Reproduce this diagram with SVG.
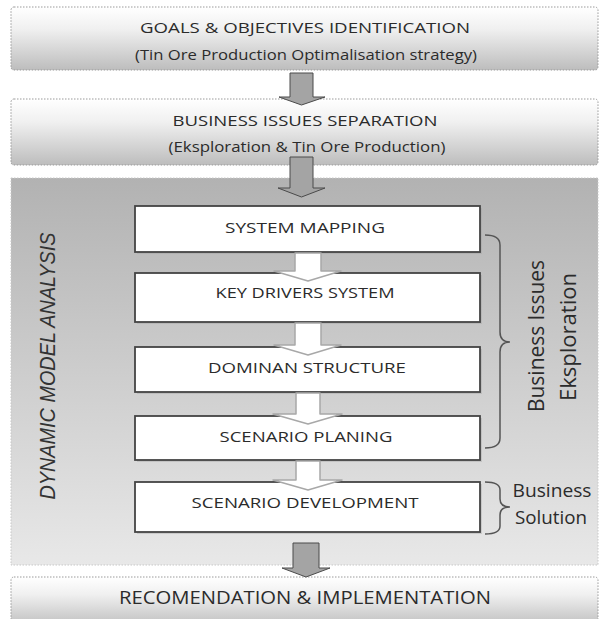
<svg xmlns="http://www.w3.org/2000/svg" width="600" height="619" viewBox="0 0 600 619">
<defs>
<linearGradient id="gTop" x1="0" y1="0" x2="0" y2="1">
<stop offset="0" stop-color="#ffffff"/>
<stop offset="0.35" stop-color="#f0f0f0"/>
<stop offset="1" stop-color="#bdbdbd"/>
</linearGradient>
<linearGradient id="gBig" x1="0" y1="0" x2="0" y2="1">
<stop offset="0" stop-color="#b2b2b2"/>
<stop offset="1" stop-color="#e8e8e8"/>
</linearGradient>
</defs>
<style>
.outer{fill:url(#gTop);stroke:#9a9a9a;stroke-width:1;stroke-dasharray:1.5 1.5}
.big{fill:url(#gBig);stroke:#c8c8c8;stroke-width:1;stroke-dasharray:1.5 1.5}
.inner{fill:#ffffff;stroke:#444444;stroke-width:1.8}
.shadow{fill:#9a9a9a;opacity:0.35}
.t{font-family:"Open Sans","Liberation Sans",sans-serif;fill:#2b2b2b;text-anchor:middle}
.side{font-family:"Liberation Sans",Arial,sans-serif;font-style:italic;fill:#333333;text-anchor:middle}
.garrow{fill:#a4a4a4;stroke:#4a4a4a;stroke-width:1}
.warrow{fill:#ffffff;stroke:#a8a8a8;stroke-width:1.5;stroke-linejoin:round}
.brace{fill:none;stroke:#555555;stroke-width:1.5}
</style>

<g id="goals">
<rect class="outer" x="11" y="7" width="587" height="63" rx="3"/>
<text class="t" x="305" y="33" font-size="14" textLength="330" lengthAdjust="spacingAndGlyphs">GOALS &amp; OBJECTIVES IDENTIFICATION</text>
<text class="t" x="306" y="60" font-size="14" textLength="342" lengthAdjust="spacingAndGlyphs">(Tin Ore Production Optimalisation  strategy)</text>
</g>

<g id="separation">
<rect class="outer" x="11" y="99" width="587" height="66" rx="3"/>
<text class="t" x="305" y="126" font-size="14" textLength="265" lengthAdjust="spacingAndGlyphs">BUSINESS ISSUES SEPARATION</text>
<text class="t" x="307" y="152" font-size="14" textLength="277" lengthAdjust="spacingAndGlyphs">(Eksploration  &amp; Tin Ore Production)</text>
</g>

<g id="dynamic">
<rect class="big" x="11" y="178" width="587" height="387"/>
<text class="side" font-size="19.5" textLength="267" lengthAdjust="spacingAndGlyphs" transform="translate(55,366) scale(1.12,1) rotate(-90)">DYNAMIC MODEL ANALYSIS</text>
</g>

<g id="recommendation">
<rect class="outer" x="11" y="577" width="587" height="50" rx="3"/>
<text class="t" x="305" y="604" font-size="18" textLength="372" lengthAdjust="spacingAndGlyphs">RECOMENDATION &amp; IMPLEMENTATION</text>
</g>

<g id="system-mapping">
<rect class="shadow" x="137" y="208" width="345" height="46"/>
<rect class="inner" x="135" y="206" width="345" height="46"/>
<text class="t" x="305" y="233" font-size="15" textLength="160" lengthAdjust="spacingAndGlyphs">SYSTEM MAPPING</text>
</g>

<g id="key-drivers">
<rect class="shadow" x="137" y="275" width="345" height="49"/>
<rect class="inner" x="135" y="273" width="345" height="49"/>
<text class="t" x="305" y="298" font-size="15" textLength="179" lengthAdjust="spacingAndGlyphs">KEY DRIVERS SYSTEM</text>
</g>

<g id="dominan">
<rect class="shadow" x="137" y="349" width="345" height="45"/>
<rect class="inner" x="135" y="347" width="345" height="45"/>
<text class="t" x="307" y="373" font-size="15" textLength="198" lengthAdjust="spacingAndGlyphs">DOMINAN STRUCTURE</text>
</g>

<g id="scenario-planing">
<rect class="shadow" x="137" y="418" width="345" height="44"/>
<rect class="inner" x="135" y="416" width="345" height="44"/>
<text class="t" x="306" y="442" font-size="15" textLength="173" lengthAdjust="spacingAndGlyphs">SCENARIO PLANING</text>
</g>

<g id="scenario-development">
<rect class="shadow" x="137" y="484" width="345" height="50"/>
<rect class="inner" x="135" y="482" width="345" height="50"/>
<text class="t" x="305" y="508" font-size="15" textLength="227" lengthAdjust="spacingAndGlyphs">SCENARIO DEVELOPMENT</text>
</g>

<g id="label-exploration">
<text class="t" font-size="19" textLength="152" lengthAdjust="spacingAndGlyphs" transform="translate(544,336) scale(1.12,1) rotate(-90)">Business Issues</text>
<text class="t" font-size="19" textLength="128" lengthAdjust="spacingAndGlyphs" transform="translate(576,337) scale(1.12,1) rotate(-90)">Eksploration</text>
</g>

<g id="label-solution">
<text class="t" x="552" y="497" font-size="18" textLength="79" lengthAdjust="spacingAndGlyphs">Business</text>
<text class="t" x="551" y="524" font-size="18" textLength="72" lengthAdjust="spacingAndGlyphs">Solution</text>
</g>

<g id="connectors">
<path class="garrow" d="M290,73 L313,73 L313,97 L325,97 L301.5,105 L279,97 L290,97 Z"/>
<path class="garrow" d="M290,157 L313,157 L313,188 L325,188 L301.5,197 L278,188 L290,188 Z"/>
<path class="garrow" d="M293,543 L319,543 L319,568 L330,568 L306,577 L282,568 L293,568 Z"/>
<path class="warrow" d="M295,253 L321,253 L321,271 L341,271 L308,281 L274,271 L295,271 Z"/>
<path class="warrow" d="M295,323 L321,323 L321,345 L341,345 L308,355 L274,345 L295,345 Z"/>
<path class="warrow" d="M296,393 L320,393 L320,414 L342,414 L308,424 L273,414 L296,414 Z"/>
<path class="warrow" d="M296,461 L320,461 L320,480 L342,480 L308,490 L273,480 L296,480 Z"/>
<path class="brace" d="M485,235 Q500,235 500,245 L500,332 Q500,342 510,342 Q500,342 500,352 L500,438 Q500,448 485,448"/>
<path class="brace" d="M485,482 Q500,482 500,490 L500,499 Q500,507 510,507 Q500,507 500,515 L500,526 Q500,534 485,534"/>
</g>
</svg>
